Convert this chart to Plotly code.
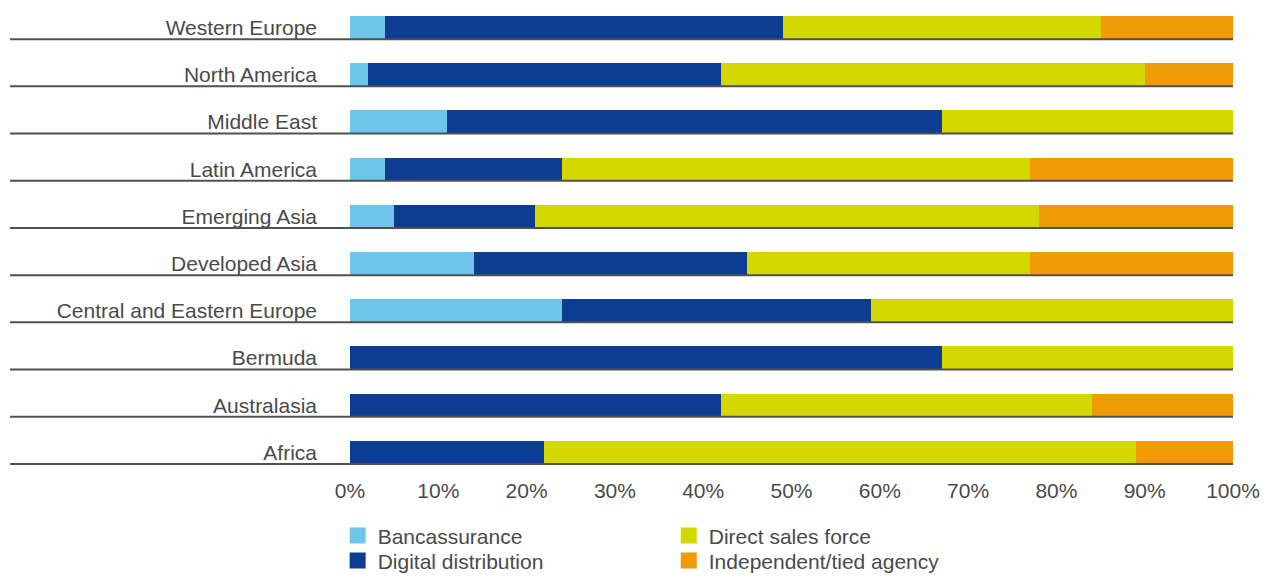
import plotly.graph_objects as go

regions = ["Western Europe", "North America", "Middle East", "Latin America",
           "Emerging Asia", "Developed Asia", "Central and Eastern Europe",
           "Bermuda", "Australasia", "Africa"]

bancassurance = [4, 2, 11, 4, 5, 14, 24, 0, 0, 0]
digital       = [45, 40, 56, 20, 16, 31, 35, 67, 42, 22]
direct_sales  = [36, 48, 33, 53, 57, 32, 41, 33, 42, 67]
agency        = [15, 10, 0, 23, 22, 23, 0, 0, 16, 11]

series_names = ["Bancassurance", "Digital distribution", "Direct sales force",
                "Independent/tied agency"]
series_vals = [bancassurance, digital, direct_sales, agency]
colors = ["#6ec5ec", "#0c3d92", "#d5d800", "#f09a05"]

x_ticks = [0, 10, 20, 30, 40, 50, 60, 70, 80, 90, 100]
x_tick_labels = ["0%", "10%", "20%", "30%", "40%", "50%", "60%", "70%",
                 "80%", "90%", "100%"]

FONT = "Liberation Sans, Arial, sans-serif"
TXT = "#4a4a4a"

fig = go.Figure()
for name, vals, col in zip(series_names, series_vals, colors):
    fig.add_trace(go.Bar(
        y=regions, x=vals, name=name, orientation="h",
        marker=dict(color=col, line=dict(width=0)),
        showlegend=False, hoverinfo="x+y+name",
    ))

# legend-only entries (larger square symbols), each in its own legend box
legend_ids = ["legend", "legend3", "legend2", "legend4"]
for name, col, lid in zip(series_names, colors, legend_ids):
    fig.add_trace(go.Scatter(
        x=[None], y=[None], mode="markers", name=name,
        marker=dict(symbol="square", size=16, color=col),
        legend=lid, showlegend=True,
    ))

# separator lines under each row
shapes = []
for i, _ in enumerate(regions):
    shapes.append(dict(type="line", xref="paper", yref="y",
                       x0=-0.385, x1=1.0, y0=i + 0.245, y1=i + 0.245,
                       line=dict(color="#505050", width=2), layer="above"))

leg_common = dict(font=dict(family=FONT, size=21, color=TXT),
                  bgcolor="rgba(0,0,0,0)", borderwidth=0,
                  xanchor="left", yanchor="middle", orientation="v")

fig.update_layout(
    width=1274, height=583,
    margin=dict(l=350, r=41, t=4, b=107, autoexpand=False),
    paper_bgcolor="white", plot_bgcolor="white",
    barmode="stack", bargap=0.51,
    font=dict(family=FONT, size=21, color=TXT),
    shapes=shapes,
    xaxis=dict(range=[0, 100], tickvals=x_ticks, ticktext=x_tick_labels,
               showgrid=False, zeroline=False, showline=False,
               ticks="", ticklabelstandoff=0, automargin=False,
               tickfont=dict(family=FONT, size=21, color=TXT)),
    yaxis=dict(autorange="reversed", showgrid=False, zeroline=False,
               showline=False, ticks="", ticklabelstandoff=32,
               automargin=False,
               tickfont=dict(family=FONT, size=21, color=TXT)),
    legend=dict(x=-0.014, y=-0.127, **leg_common),
    legend3=dict(x=-0.014, y=-0.180, **leg_common),
    legend2=dict(x=0.361, y=-0.127, **leg_common),
    legend4=dict(x=0.361, y=-0.180, **leg_common),
)

fig.write_html("out.html",
               config={"displayModeBar": False},
               post_script="document.body.style.margin='0';"
                           "document.body.style.overflow='hidden';")
